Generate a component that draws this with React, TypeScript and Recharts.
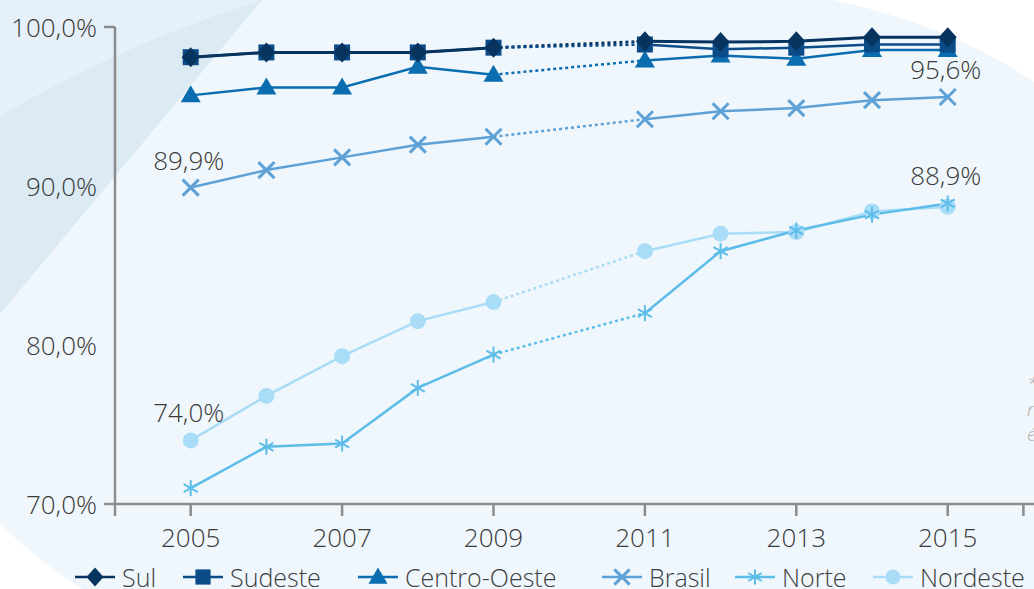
import React from "react";
import { LineChart, Line, XAxis, YAxis, Legend } from "recharts";

const years = [2005, 2006, 2007, 2008, 2009, 2010, 2011, 2012, 2013, 2014, 2015];
const sul = [98.1, 98.4, 98.4, 98.4, 98.7, null, 99.1, 99.05, 99.1, 99.35, 99.35];
const sudeste = [98.1, 98.4, 98.4, 98.4, 98.7, null, 98.9, 98.6, 98.7, 98.9, 98.9];
const centroOeste = [95.7, 96.2, 96.2, 97.5, 97.0, null, 97.9, 98.2, 98.0, 98.55, 98.55];
const brasil = [89.9, 91.0, 91.8, 92.6, 93.1, null, 94.2, 94.7, 94.9, 95.4, 95.6];
const norte = [71.0, 73.6, 73.8, 77.3, 79.4, null, 82.0, 85.9, 87.2, 88.2, 88.9];
const nordeste = [74.0, 76.8, 79.3, 81.5, 82.7, null, 85.9, 87.0, 87.1, 88.4, 88.7];

const yTicks = [70, 80, 90, 100];
const xTicks = [2004, 2005, 2007, 2009, 2011, 2013, 2015, 2016];
const labeledYears = [2005, 2007, 2009, 2011, 2013, 2015];
const gapYears = [2009, 2011];

type Shape = "diamond" | "square" | "triangle" | "x" | "asterisk" | "circle";

const series: { key: string; name: string; values: (number | null)[]; color: string; shape: Shape; width: number }[] = [
  { key: "sul", name: "Sul", values: sul, color: "#06345f", shape: "diamond", width: 3 },
  { key: "sudeste", name: "Sudeste", values: sudeste, color: "#0b4b87", shape: "square", width: 2.5 },
  { key: "centroOeste", name: "Centro-Oeste", values: centroOeste, color: "#0a6db0", shape: "triangle", width: 2.5 },
  { key: "brasil", name: "Brasil", values: brasil, color: "#5ea1d6", shape: "x", width: 2.5 },
  { key: "norte", name: "Norte", values: norte, color: "#5dbde8", shape: "asterisk", width: 2.5 },
  { key: "nordeste", name: "Nordeste", values: nordeste, color: "#a9dcf6", shape: "circle", width: 2.5 },
];

// labels: series key -> indexes to label
const pointLabels: Record<string, number[]> = {
  brasil: [0, 10],
  nordeste: [0],
  norte: [10],
};

const data = years.map((y, i) => {
  const row: Record<string, number | null> = { year: y };
  series.forEach((s) => {
    row[s.key] = s.values[i];
    row[s.key + "Gap"] = gapYears.includes(y) ? s.values[i] : null;
  });
  return row;
});

const FONT = "'Open Sans', sans-serif";
const TEXT = "#3a3a3a";
const fmt = (v: number) => v.toFixed(1).replace(".", ",") + "%";

function Marker({ shape, cx, cy, color, scale = 1 }: { shape: Shape; cx: number; cy: number; color: string; scale?: number }) {
  const k = scale;
  switch (shape) {
    case "diamond":
      return (
        <polygon
          points={`${cx},${cy - 10 * k} ${cx + 9 * k},${cy} ${cx},${cy + 10 * k} ${cx - 9 * k},${cy}`}
          fill={color}
        />
      );
    case "square":
      return <rect x={cx - 8 * k} y={cy - 8 * k} width={16 * k} height={16 * k} fill={color} />;
    case "triangle":
      return (
        <polygon
          points={`${cx},${cy - 10 * k} ${cx + 10 * k},${cy + 7 * k} ${cx - 10 * k},${cy + 7 * k}`}
          fill={color}
        />
      );
    case "x":
      return (
        <g stroke={color} strokeWidth={3}>
          <line x1={cx - 8 * k} y1={cy - 8 * k} x2={cx + 8 * k} y2={cy + 8 * k} />
          <line x1={cx - 8 * k} y1={cy + 8 * k} x2={cx + 8 * k} y2={cy - 8 * k} />
        </g>
      );
    case "asterisk":
      return (
        <g stroke={color} strokeWidth={2}>
          <line x1={cx} y1={cy - 8 * k} x2={cx} y2={cy + 8 * k} />
          <line x1={cx - 7 * k} y1={cy - 4 * k} x2={cx + 7 * k} y2={cy + 4 * k} />
          <line x1={cx - 7 * k} y1={cy + 4 * k} x2={cx + 7 * k} y2={cy - 4 * k} />
        </g>
      );
    case "circle":
    default:
      return <circle cx={cx} cy={cy} r={8 * k} fill={color} />;
  }
}

const makeDot = (shape: Shape, color: string) => (props: any) => {
  const { cx, cy, index, value } = props;
  if (cx == null || cy == null || value == null || Number.isNaN(cy)) return <g key={`d-${index}`} />;
  return (
    <g key={`d-${shape}-${index}`}>
      <Marker shape={shape} cx={cx} cy={cy} color={color} />
    </g>
  );
};

const makeLabel = (key: string) => (props: any) => {
  const { x, y, index, value } = props;
  const idxs = pointLabels[key] || [];
  if (!idxs.includes(index) || value == null) return <g key={`l-${key}-${index}`} />;
  return (
    <text
      key={`l-${key}-${index}`}
      x={x - 2}
      y={y - 28}
      textAnchor="middle"
      dominantBaseline="central"
      fontSize={26}
      fontWeight={300}
      fill={TEXT}
      fontFamily={FONT}
    >
      {fmt(value)}
    </text>
  );
};

const YTick = (props: any) => {
  const { x, y, payload } = props;
  const v = payload.value;
  return (
    <g>
      <text x={x} y={y} textAnchor="end" dominantBaseline="central" fontSize={26} fontWeight={300} fill={TEXT} fontFamily={FONT}>
        {fmt(v)}
      </text>
      {(v === 100 || v === 70) && <line x1={x + 7} x2={x + 18} y1={y} y2={y} stroke="#8c8c8c" strokeWidth={2.5} />}
    </g>
  );
};

const legendLeft = [75, 183, 358, 602, 735, 873];

const LegendContent = () => (
  <div
    style={{
      position: "relative",
      fontFamily: FONT,
      fontSize: 25,
      fontWeight: 300,
      color: "#404040",
      height: 28,
      lineHeight: "28px",
      width: 1034,
      top: 2,
    }}
  >
    {series.map((s, i) => (
      <div key={s.key} style={{ position: "absolute", left: legendLeft[i], top: 0, display: "flex", alignItems: "center", whiteSpace: "nowrap" }}>
        <svg width={40} height={26} style={{ marginRight: 7 }}>
          <line x1={0} x2={40} y1={13} y2={13} stroke={s.color} strokeWidth={2.5} />
          <Marker shape={s.shape} cx={20} cy={13} color={s.color} scale={0.95} />
        </svg>
        <span>{s.name}</span>
      </div>
    ))}
  </div>
);

function Background() {
  return (
    <svg width={1034} height={589} style={{ position: "absolute", left: 0, top: 0 }}>
      <rect x={0} y={0} width={1034} height={589} fill="#eff7fc" />
      <polygon points="0,0 262,0 0,314" fill="#dceaf4" />
      <path d="M0,0 L262,0 Q120,45 0,116 Z" fill="#e6f0f8" />
      <path d="M833,0 Q950,25 1034,82 L1034,0 Z" fill="#ffffff" />
      <path d="M0,524 Q40,562 82,589 L0,589 Z" fill="#ffffff" />
      <g fontFamily={FONT} fontStyle="italic" fontWeight={300} fontSize={19} fill="#b0b0b0">
        <text x={1027} y={391}>*</text>
        <text x={1027} y={416}>n</text>
        <text x={1027} y={441}>é</text>
      </g>
    </svg>
  );
}

export default function App() {
  return (
    <div style={{ position: "fixed", left: 0, top: 0, width: 1034, height: 589, overflow: "hidden" }}>
      <Background />
      <div style={{ position: "absolute", left: 0, top: 0 }}>
        <LineChart width={1034} height={589} data={data} margin={{ top: 27, right: 0, left: 0, bottom: 0 }}>
          <XAxis
            dataKey="year"
            type="number"
            domain={[2004, 2016.14]}
            ticks={xTicks}
            allowDataOverflow
            stroke="#8c8c8c"
            strokeWidth={2.5}
            tickSize={12}
            tickMargin={13}
            height={57}
            tickFormatter={(v: number) => (labeledYears.includes(v) ? String(v) : "")}
            tick={{ fontSize: 26, fontWeight: 300, fill: TEXT, fontFamily: FONT }}
            tickLine={{ stroke: "#8c8c8c", strokeWidth: 2.5 }}
          />
          <YAxis
            type="number"
            domain={[70, 100]}
            ticks={yTicks}
            width={115}
            stroke="#8c8c8c"
            strokeWidth={2.5}
            tickSize={11}
            tickMargin={7}
            tickLine={false}
            tick={<YTick />}
          />
          <Legend verticalAlign="bottom" content={<LegendContent />} />
          {series.map((s) => (
            <Line
              key={s.key + "Gap"}
              dataKey={s.key + "Gap"}
              stroke={s.color}
              strokeWidth={s.width}
              strokeDasharray="3 3"
              dot={false}
              activeDot={false}
              connectNulls
              legendType="none"
              isAnimationActive={false}
            />
          ))}
          {series
            .slice()
            .reverse()
            .map((s) => (
              <Line
                key={s.key}
                dataKey={s.key}
                name={s.name}
                stroke={s.color}
                strokeWidth={s.width}
                dot={makeDot(s.shape, s.color)}
                activeDot={false}
                label={makeLabel(s.key)}
                isAnimationActive={false}
              />
            ))}
        </LineChart>
      </div>
    </div>
  );
}
